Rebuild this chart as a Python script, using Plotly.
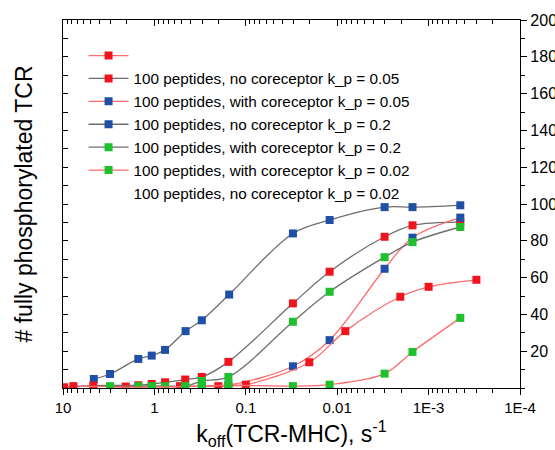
import plotly.graph_objects as go

# ---- data ----
# gray line, blue markers: 100 peptides, no coreceptor k_p = 0.2
a_x = [4.6, 3.06, 1.5, 1.07, 0.765, 0.456, 0.303, 0.152, 0.0305, 0.0121, 0.00303, 0.0015, 0.00045]
a_y = [4.9, 7.6, 15.8, 17.6, 20.7, 30.9, 36.8, 50.8, 84.0, 91.3, 98.3, 98.3, 99.3]
# gray line, red markers: 100 peptides, no coreceptor k_p = 0.05
b_x = [9.7, 4.66, 1.5, 1.07, 0.764, 0.46, 0.303, 0.155, 0.0305, 0.0121, 0.00303, 0.0015, 0.00045]
b_y = [0.4, 1.3, 1.5, 2.2, 3.1, 4.6, 6.0, 14.2, 46.0, 63.2, 82.2, 88.4, 90.2]
# gray line, green markers: 100 peptides, with coreceptor k_p = 0.2
c_x = [3.06, 1.5, 1.07, 0.764, 0.46, 0.303, 0.155, 0.0305, 0.0121, 0.00303, 0.0015, 0.00045]
c_y = [1.0, 1.0, 1.0, 1.0, 1.0, 3.8, 6.0, 36.0, 52.3, 71.1, 79.3, 87.5]
# red line, blue markers: 100 peptides, with coreceptor k_p = 0.05
d_x = [0.303, 0.155, 0.0305, 0.0121, 0.00303, 0.0015, 0.00045]
d_y = [1.0, 1.5, 11.8, 26.0, 64.8, 81.7, 92.6]
# red line, red markers
e_x = [7.7, 2.06, 0.525, 0.2, 0.1, 0.0202, 0.00815, 0.00204, 0.001, 0.0003]
e_y = [1.0, 0.8, 1.0, 1.0, 1.8, 14.0, 30.9, 49.6, 55.0, 58.8]
# red line, green markers
f_x = [3.06, 1.07, 0.46, 0.303, 0.155, 0.0305, 0.0121, 0.00303, 0.0015, 0.00045]
f_y = [0.5, 0.5, 0.8, 1.0, 1.5, 1.0, 1.8, 7.8, 19.6, 38.1]

legend_names = [
    "",
    "100 peptides, no coreceptor k_p = 0.05",
    "100 peptides, with coreceptor k_p = 0.05",
    "100 peptides, no coreceptor k_p = 0.2",
    "100 peptides, with coreceptor k_p = 0.2",
    "100 peptides, with coreceptor k_p = 0.02",
    "100 peptides, no coreceptor k_p = 0.02",
]

x_tickvals = [10, 1, 0.1, 0.01, 0.001, 0.0001]
x_ticktext = ["10", "1", "0.1", "0.01", "1E-3", "1E-4"]
y_tickvals = [20, 40, 60, 80, 100, 120, 140, 160, 180, 200]

RED = "#f0141e"
BLUE = "#1f4fa6"
GREEN = "#1ec02c"
GRAY_LINE = "#6e6e6e"
RED_LINE = "#ff6b6b"
FONT = "Liberation Sans, Arial, sans-serif"

minor_x = [m * 10.0 ** e for e in range(-4, 1) for m in range(2, 10)]

fig = go.Figure()

def add(x, y, mcol, lcol, name, rank):
    fig.add_trace(go.Scatter(
        x=x, y=y, mode="lines+markers", name=name,
        line=dict(color=lcol, width=1.3, shape="spline", smoothing=1.0),
        marker=dict(symbol="square", size=8, color=mcol),
        legendrank=rank))

add(a_x, a_y, BLUE, GRAY_LINE, legend_names[3], 4)
add(b_x, b_y, RED, GRAY_LINE, legend_names[1], 2)
add(d_x, d_y, BLUE, RED_LINE, legend_names[2], 3)
add(e_x, e_y, RED, RED_LINE, legend_names[0], 1)
add(c_x, c_y, GREEN, GRAY_LINE, legend_names[4], 5)
add(f_x, f_y, GREEN, RED_LINE, legend_names[5], 6)
fig.add_trace(go.Scatter(x=[None], y=[None], mode="lines", name=legend_names[6],
                         line=dict(color="rgba(0,0,0,0)"), legendrank=7))
# empty trace bound to the mirrored axes so they get drawn
fig.add_trace(go.Scatter(x=[None], y=[None], xaxis="x2", yaxis="y2", mode="lines",
                         showlegend=False, hoverinfo="skip"))

fig.update_layout(
    width=555, height=450,
    margin=dict(l=63, r=35, t=20, b=62),
    paper_bgcolor="white", plot_bgcolor="white",
    font=dict(family=FONT, size=15, color="black"),
    showlegend=True,
    legend=dict(x=0.045, y=0.948, xanchor="left", yanchor="top",
                bgcolor="rgba(0,0,0,0)", font=dict(size=15.3, color="black"),
                itemwidth=40, tracegroupgap=0),
    xaxis=dict(type="log", range=[1, -4], showgrid=False, zeroline=False,
               automargin=False,
               showline=True, linecolor="black", linewidth=1.3,
               ticks="outside", ticklen=6, tickcolor="black",
               tickvals=x_tickvals, ticktext=x_ticktext,
               tickfont=dict(size=15),
               minor=dict(ticks="outside", ticklen=4, tickcolor="black", tickvals=minor_x),
               title=dict(text="k<sub>off</sub>(TCR-MHC), s<sup>-1</sup>",
                          font=dict(size=23), standoff=14)),
    xaxis2=dict(type="log", range=[1, -4], overlaying="x", side="top",
                automargin=False,
                showgrid=False, zeroline=False, showline=True, linecolor="black",
                linewidth=1.3, ticks="inside", ticklen=6, tickcolor="black",
                tickvals=x_tickvals, showticklabels=False,
                minor=dict(ticks="inside", ticklen=4, tickcolor="black", tickvals=minor_x)),
    yaxis=dict(range=[0, 200], side="left", showgrid=False, zeroline=False,
               automargin=False,
               showline=True, linecolor="black", linewidth=1.3,
               ticks="inside", ticklen=5, tickcolor="black", dtick=10,
               showticklabels=False,
               title=dict(text="# fully phosphorylated TCR", font=dict(size=23), standoff=22)),
    yaxis2=dict(range=[0, 200], overlaying="y", side="right", showgrid=False,
                automargin=False,
                zeroline=False, showline=True, linecolor="black", linewidth=1.3,
                ticks="outside", ticklen=6, tickcolor="black",
                tickvals=y_tickvals, tickfont=dict(size=16),
                minor=dict(ticks="outside", ticklen=4, tickcolor="black", dtick=10)),
)

fig.write_html("out.html")
